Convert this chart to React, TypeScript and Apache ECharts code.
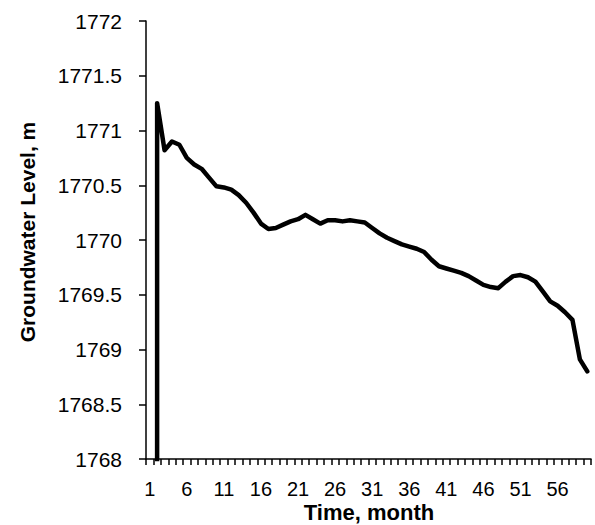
import React, { useEffect, useRef } from "react";
import * as echarts from "echarts";

const months = [
  "1", "2", "3", "4", "5", "6", "7", "8", "9", "10",
  "11", "12", "13", "14", "15", "16", "17", "18", "19", "20",
  "21", "22", "23", "24", "25", "26", "27", "28", "29", "30",
  "31", "32", "33", "34", "35", "36", "37", "38", "39", "40",
  "41", "42", "43", "44", "45", "46", "47", "48", "49", "50",
  "51", "52", "53", "54", "55", "56", "57", "58", "59", "60",
];

const groundwaterLevel = [
  0, 1771.25, 1770.82, 1770.9, 1770.87, 1770.75, 1770.69, 1770.65, 1770.57, 1770.49,
  1770.48, 1770.46, 1770.41, 1770.34, 1770.25, 1770.15, 1770.1, 1770.11, 1770.14, 1770.17,
  1770.19, 1770.23, 1770.19, 1770.15, 1770.18, 1770.18, 1770.17, 1770.18, 1770.17, 1770.16,
  1770.11, 1770.06, 1770.02, 1769.99, 1769.96, 1769.94, 1769.92, 1769.89, 1769.82, 1769.76,
  1769.74, 1769.72, 1769.7, 1769.67, 1769.63, 1769.59, 1769.57, 1769.56, 1769.62, 1769.67,
  1769.68, 1769.66, 1769.62, 1769.53, 1769.44, 1769.4, 1769.34, 1769.27, 1768.91, 1768.8,
];

const yMin = 1768;
const yMax = 1772;
const yStep = 0.5;

const xTitle = "Time, month";
const yTitle = "Groundwater Level, m";

const FONT = "'Liberation Sans', Arial, sans-serif";

export default function App() {
  const ref = useRef<HTMLDivElement>(null);

  useEffect(() => {
    if (!ref.current) return;
    const chart = echarts.init(ref.current, undefined, { renderer: "svg" });
    chart.setOption({
      animation: false,
      backgroundColor: "#ffffff",
      grid: { left: 146, right: 4, top: 21, bottom: 66, containLabel: false },
      xAxis: {
        type: "category",
        data: months,
        boundaryGap: true,
        axisLine: { show: true, lineStyle: { color: "#000", width: 1.5 } },
        axisTick: { show: true, interval: 0, length: 6, lineStyle: { color: "#000", width: 1.5 } },
        axisLabel: {
          interval: 4,
          margin: 19.5,
          color: "#000",
          fontSize: 20,
          fontFamily: FONT,
        },
        splitLine: { show: false },
      },
      yAxis: {
        type: "value",
        min: yMin,
        max: yMax,
        interval: yStep,
        axisLine: { show: true, lineStyle: { color: "#000", width: 1.5 } },
        axisTick: { show: true, length: 7, lineStyle: { color: "#000", width: 1.5 } },
        axisLabel: {
          margin: 24,
          color: "#000",
          fontSize: 21,
          fontFamily: FONT,
          formatter: (v: number) => String(v),
        },
        splitLine: { show: false },
      },
      graphic: [
        {
          type: "text",
          x: 27,
          y: 232,
          rotation: Math.PI / 2,
          style: {
            text: yTitle,
            fill: "#000",
            font: `bold 21px ${FONT}`,
            textAlign: "center",
            textVerticalAlign: "middle",
          },
        },
        {
          type: "text",
          x: 369,
          y: 512.5,
          style: {
            text: xTitle,
            fill: "#000",
            font: `bold 22px ${FONT}`,
            textAlign: "center",
            textVerticalAlign: "middle",
          },
        },
      ],
      series: [
        {
          type: "line",
          data: groundwaterLevel,
          showSymbol: false,
          symbol: "none",
          clip: true,
          lineStyle: { color: "#000", width: 4.5, join: "round", cap: "round" },
        },
      ],
    });
    return () => chart.dispose();
  }, []);

  return (
    <div
      ref={ref}
      style={{ position: "fixed", left: 0, top: 0, width: 595, height: 525, background: "#fff" }}
    />
  );
}
